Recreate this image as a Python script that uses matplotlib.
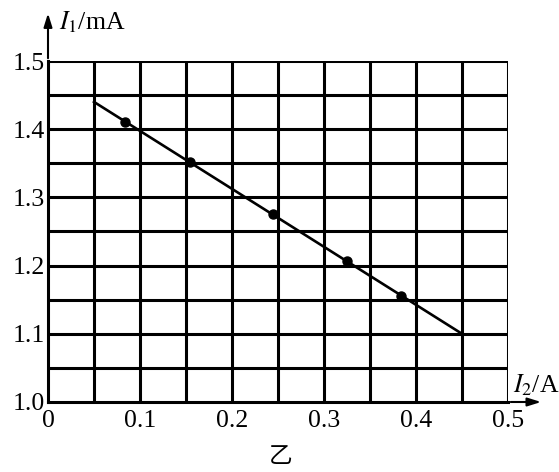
import numpy as np
import matplotlib
matplotlib.use("Agg")
import matplotlib.pyplot as plt

plt.rcParams['font.family'] = ['Liberation Serif', 'Noto Sans CJK SC', 'DejaVu Sans']
plt.rcParams['mathtext.fontset'] = 'stix'

# data
i2_points = [0.084, 0.154, 0.245, 0.325, 0.384]
i1_points = [1.410, 1.352, 1.276, 1.207, 1.155]
fit_i2 = [0.05, 0.45]
fit_i1 = [1.44, 1.10]
x_ticks = [0, 0.1, 0.2, 0.3, 0.4, 0.5]
x_tick_labels = ["0", "0.1", "0.2", "0.3", "0.4", "0.5"]
y_ticks = [1.0, 1.1, 1.2, 1.3, 1.4, 1.5]
y_tick_labels = ["1.0", "1.1", "1.2", "1.3", "1.4", "1.5"]

fig = plt.figure(figsize=(5.59, 4.72), dpi=100)
ax = fig.add_axes([48 / 559, 1 - 402 / 472, 460 / 559, 341 / 472])

ax.set_xlim(0, 0.5)
ax.set_ylim(1.0, 1.5)

# grid every 0.05
for gx in np.arange(0.05, 0.501, 0.05):
    ax.axvline(gx, color="black", lw=2.2, zorder=1)
for gy in np.arange(1.05, 1.501, 0.05):
    ax.axhline(gy, color="black", lw=2.2, zorder=1)

ax.plot(fit_i2, fit_i1, color="black", lw=1.9, zorder=3)
ax.plot(i2_points, i1_points, "o", color="black", ms=6.5, zorder=4)

for s in ["top", "right"]:
    ax.spines[s].set_visible(False)
ax.spines["left"].set_linewidth(2.2)
ax.spines["bottom"].set_linewidth(2.2)

ax.set_xticks(x_ticks)
ax.set_xticklabels(x_tick_labels)
ax.set_yticks(y_ticks)
ax.set_yticklabels(y_tick_labels)
ax.tick_params(length=0, labelsize=18.5)
ax.tick_params(axis="x", pad=6)
ax.tick_params(axis="y", pad=2)

# axis arrows
ax.annotate("", xy=(0, 1.148), xytext=(0, 1.0), xycoords="axes fraction",
            arrowprops=dict(arrowstyle="-|>,head_length=0.8,head_width=0.25",
                            color="black", lw=1.5), annotation_clip=False)
ax.annotate("", xy=(1.078, 0), xytext=(1.0, 0), xycoords="axes fraction",
            arrowprops=dict(arrowstyle="-|>,head_length=0.8,head_width=0.25",
                            color="black", lw=1.5), annotation_clip=False)

fig.text(59 / 559, 1 - 22 / 472, r"$I_1$/mA", fontsize=18.5, va="center", ha="left")
fig.text(513 / 559, 1 - 385 / 472, r"$I_2$/A", fontsize=18.5, va="center", ha="left")
fig.text(281 / 559, 1 - 456 / 472, "乙", fontsize=17, va="center", ha="center",
         family=['Noto Sans CJK SC'])

fig.savefig("out.png", dpi=100, facecolor="white")
